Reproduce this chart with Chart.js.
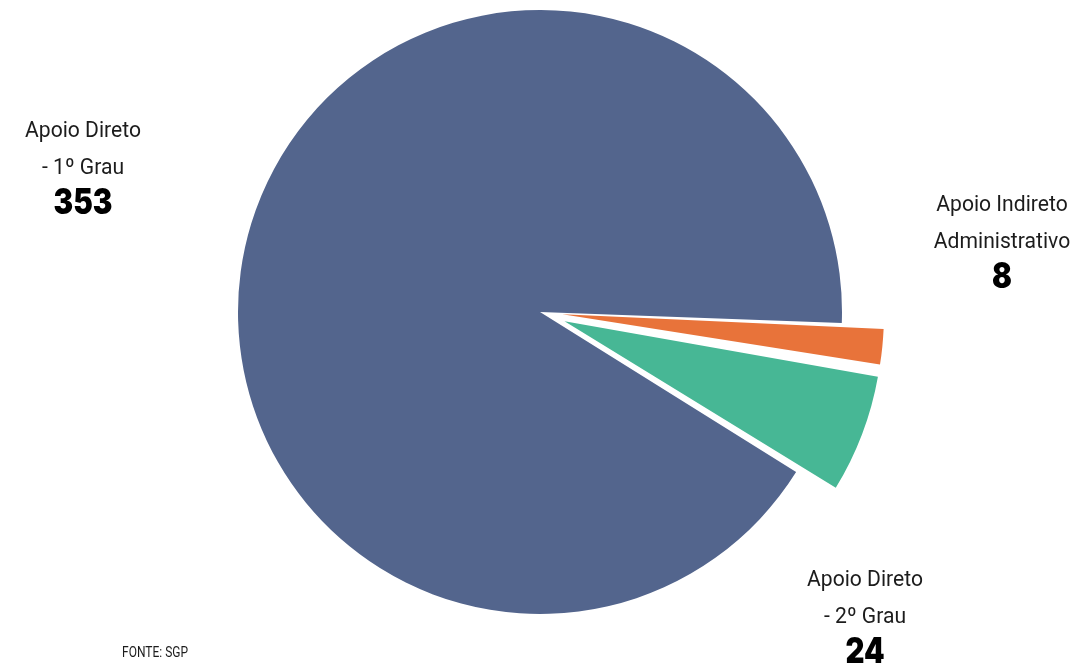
<!DOCTYPE html>
<html>
<head>
<meta charset="utf-8">
<script src="https://cdn.jsdelivr.net/npm/chart.js@4"></script>
<style>
  html, body { margin: 0; padding: 0; background: #fff; }
  #wrap { width: 1083px; height: 667px; position: relative; }
</style>
</head>
<body>
<div id="wrap"><canvas id="myChart" width="1083" height="667"></canvas></div>
<script>
// data
const categories = ["Apoio Direto - 1º Grau", "Apoio Indireto Administrativo", "Apoio Direto - 2º Grau"];
const labelLines = [["Apoio Direto", "- 1º Grau"], ["Apoio Indireto", "Administrativo"], ["Apoio Direto", "- 2º Grau"]];
const values = [353, 8, 24];
const colors = ["#53658d", "#e8733a", "#47b795"];
const sourceNote = "FONTE: SGP";

// where each label block sits (centre x, first line y)
const labelPos = [[83, 131], [1002, 205], [865, 580]];

// draw text squeezed sideways, the original uses a condensed face
function squeezed(ctx, text, x, y, sx) {
    ctx.save();
    ctx.translate(x, y);
    ctx.scale(sx, 1);
    ctx.fillText(text, 0, 0);
    ctx.restore();
}

const labelPlugin = {
    id: 'sliceLabels',
    afterDraw(chart) {
        const ctx = chart.ctx;
        ctx.save();
        ctx.textAlign = 'center';
        ctx.textBaseline = 'middle';
        labelLines.forEach((lines, i) => {
            const [x, y] = labelPos[i];
            ctx.fillStyle = '#1c1c1c';
            ctx.font = '400 22px Roboto';
            squeezed(ctx, lines[0], x, y, 0.96);
            squeezed(ctx, lines[1], x, y + 37, 0.96);
            ctx.font = '900 35px Inter';
            ctx.fillStyle = '#000';
            squeezed(ctx, String(values[i]), x, y + 72, 0.84);
        });
        ctx.fillStyle = '#1c1c1c';
        ctx.font = '400 15px Roboto';
        squeezed(ctx, sourceNote, 155, 653, 0.8);
        ctx.restore();
    }
};

const data = {
    labels: categories,
    datasets: [{
        data: values,
        backgroundColor: colors,
        borderWidth: 0,
        offset: [0, 90, 105]
    }]
};

const config = {
    type: 'pie',
    data: data,
    plugins: [labelPlugin],
    options: {
        responsive: false,
        animation: false,
        rotation: 122,
        radius: 302,
        layout: {
            padding: { left: 0, right: 3, top: 0, bottom: 43 }
        },
        plugins: {
            legend: { display: false },
            tooltip: { enabled: false }
        }
    }
};

const myChart = new Chart(
    document.getElementById('myChart'),
    config
);
</script>
</body>
</html>
